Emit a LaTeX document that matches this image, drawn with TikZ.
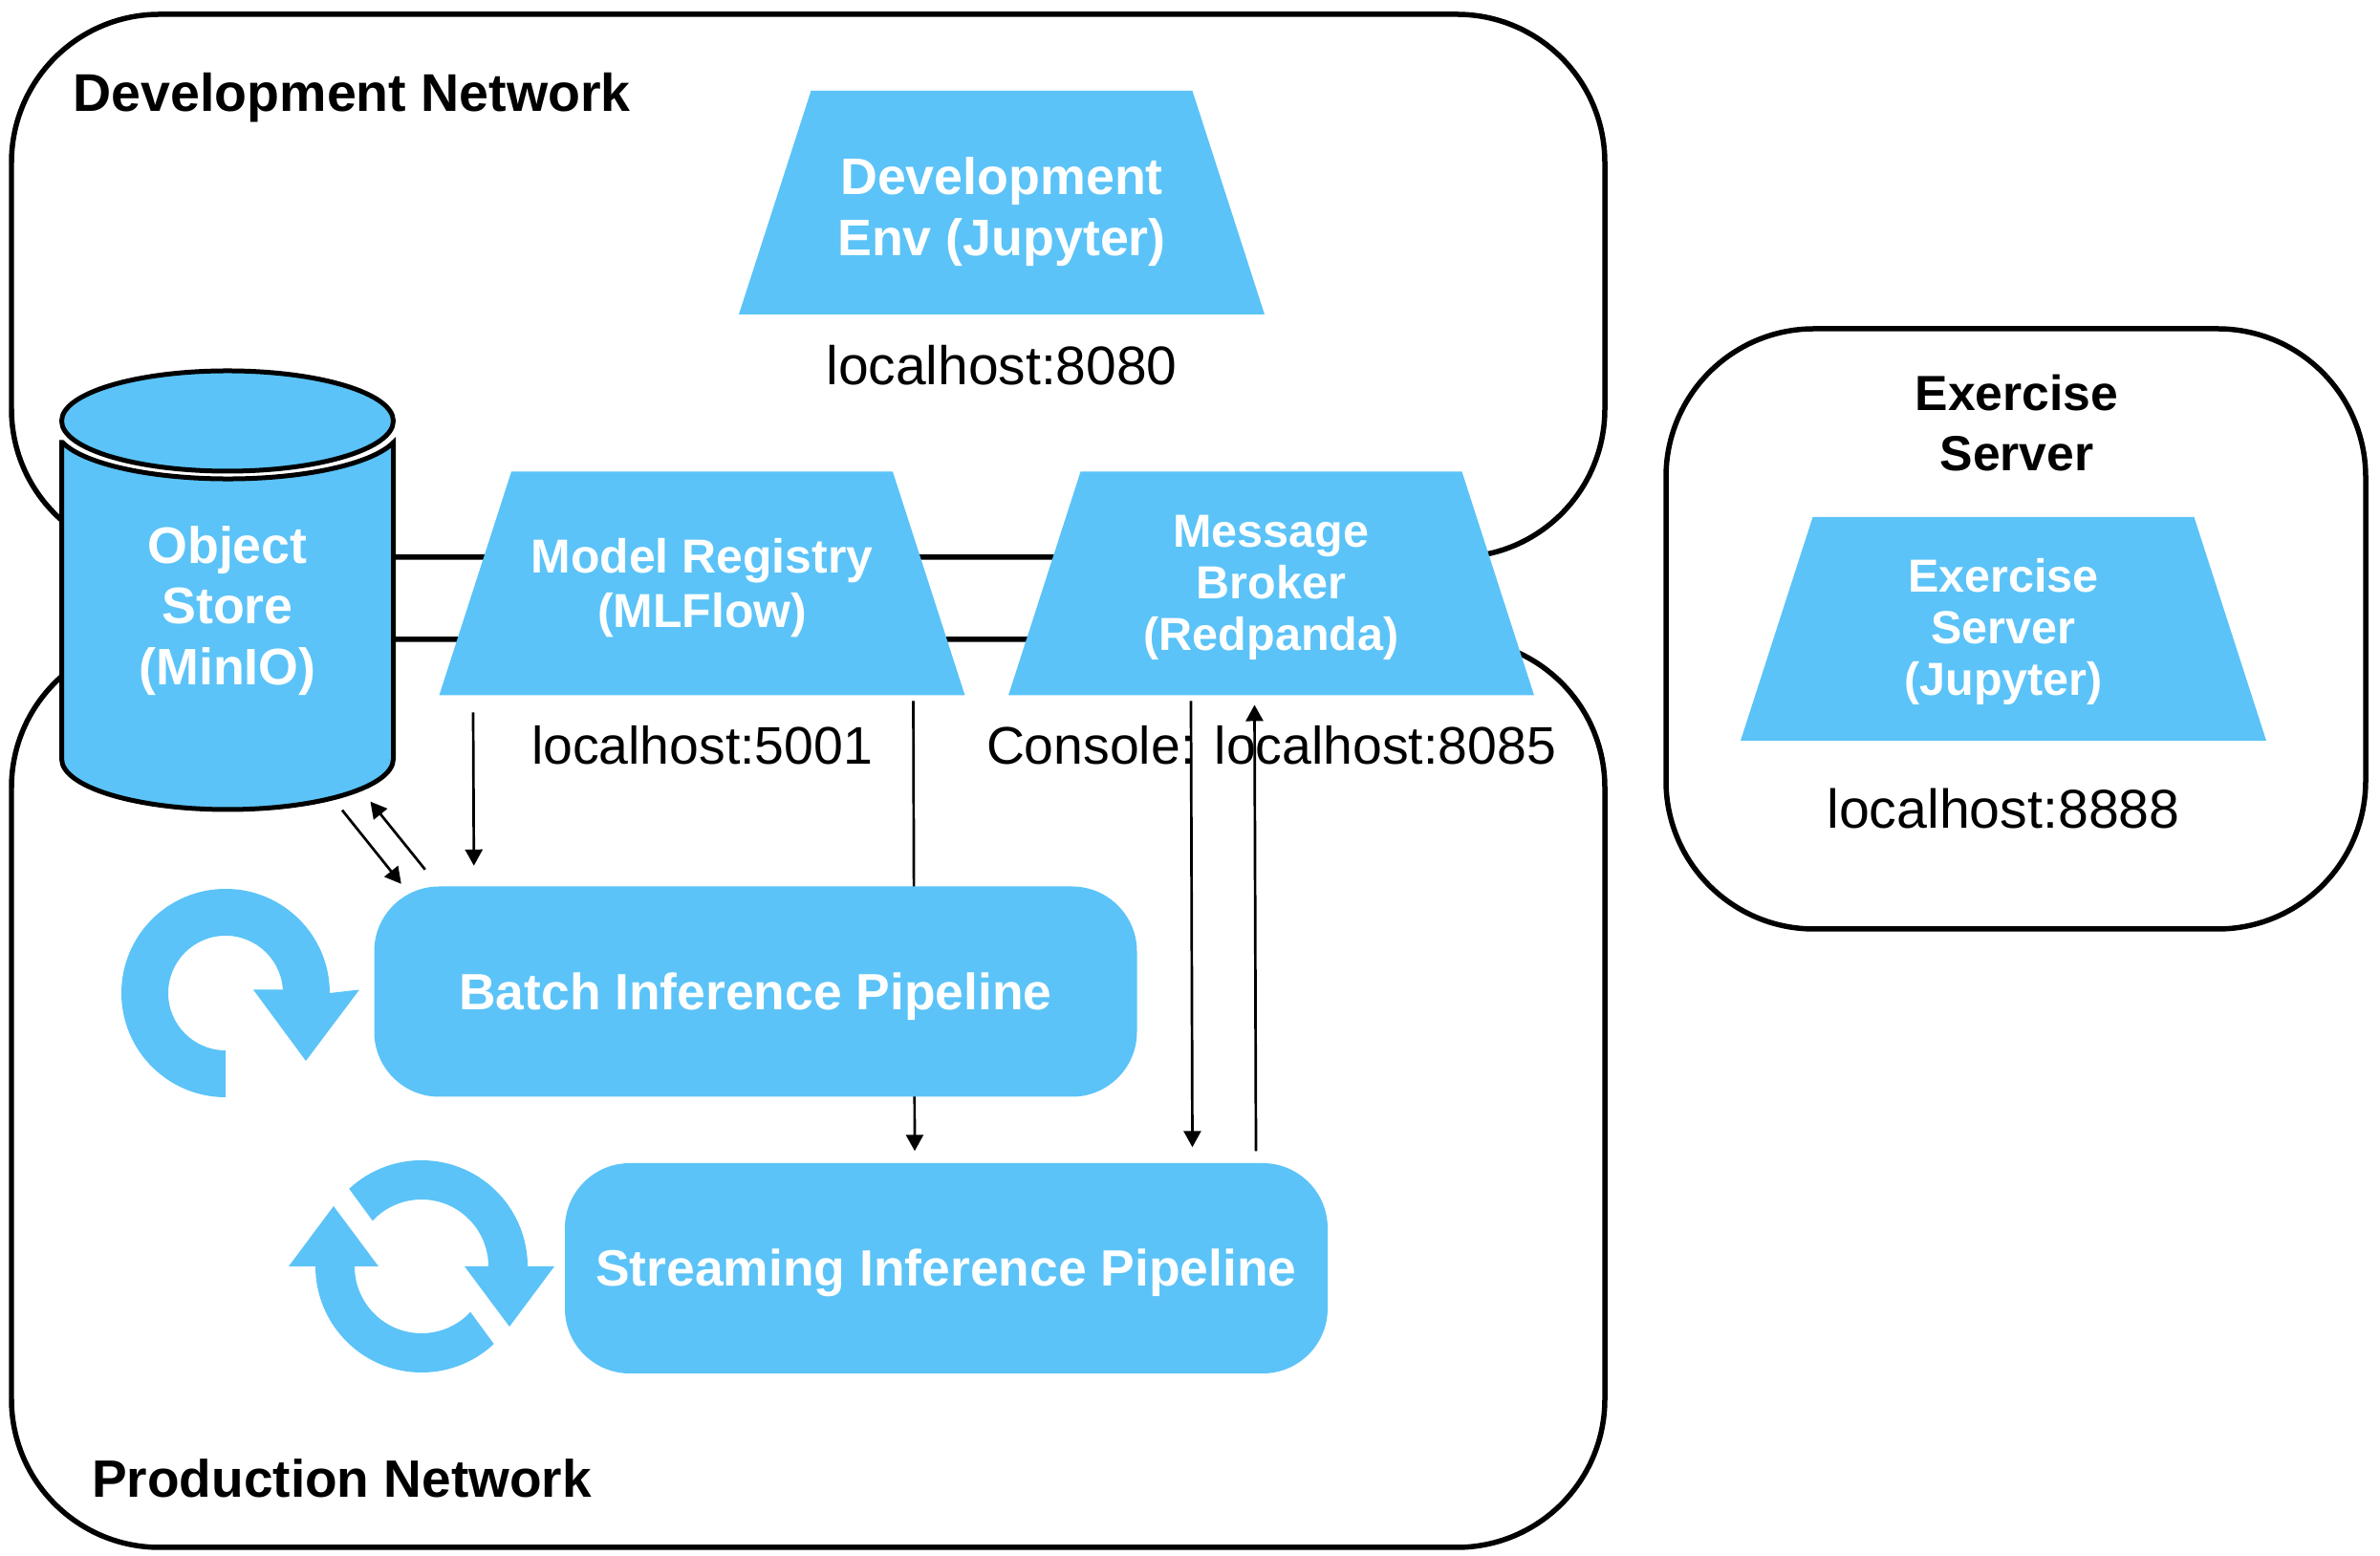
\documentclass[tikz,border=0pt]{standalone}
\usepackage{fontspec}
\setmainfont{Liberation Sans}
\usetikzlibrary{positioning, arrows.meta}

\definecolor{pipeblue}{RGB}{91,195,247}

\tikzset{
    network/.style={draw, line width=0.055cm, rounded corners=1.55cm},
    nettitle/.style={font=\fontsize{15.8}{18}\selectfont\bfseries, align=center, inner sep=0},
    service/.style={minimum width=5.5cm, minimum height=2.34cm,
        inner sep=0, outer sep=0, text=white, align=center,
        path picture={\fill[pipeblue] (path picture bounding box.south west)
            -- ([xshift=0.755cm]path picture bounding box.north west)
            -- ([xshift=-0.755cm]path picture bounding box.north east)
            -- (path picture bounding box.south east) -- cycle;}},
    bigtext/.style={font=\fontsize{15.3}{18.1}\selectfont\bfseries},
    smalltext/.style={font=\fontsize{13.8}{15.4}\selectfont\bfseries, text height=42.7pt},
    pipeline/.style={fill=pipeblue, text=white, rounded corners=0.68cm,
        minimum width=7.98cm, minimum height=2.2cm, inner sep=0, text height=14pt,
        font=\fontsize{15.2}{18}\selectfont\bfseries},
    port/.style={font=\fontsize{16}{18}\selectfont, inner sep=0},
    flow/.style={line width=0.027cm, -{Triangle[length=0.17cm, width=0.18cm]}},
    barrel/.style={draw, line width=0.05cm, fill=pipeblue, miter limit=10},
}

\begin{document}
\begin{tikzpicture}
\useasboundingbox (0,0) rectangle (24.9,16.28);

% network outlines
\node[network, minimum width=16.67cm, minimum height=5.68cm] (dev) at (8.455,13.29) {};
\node[network, minimum width=16.67cm, minimum height=9.50cm] (prod) at (8.455,4.84) {};
\node[network, minimum width=7.32cm, minimum height=6.28cm] (exbox) at (21.09,9.70) {};

\node[nettitle, anchor=west] (devtitle) at (0.76,15.26) {Development Network};
\node[nettitle, anchor=west, font=\fontsize{15.65}{18}\selectfont\bfseries] (prodtitle) at (0.955,0.81) {Production Network};
\node[nettitle, font=\fontsize{14.7}{18}\selectfont\bfseries] (extitle) at (21.10,11.855) {Exercise\\Server};

% object store
\draw[barrel] (0.645,11.65) -- (0.645,8.34)
    arc[start angle=180, end angle=360, x radius=1.735cm, y radius=0.53cm]
    -- (4.115,11.65)
    arc[start angle=-16, end angle=-164, x radius=1.80cm, y radius=0.525cm] -- cycle;
\draw[barrel] (2.38,11.875) ellipse [x radius=1.735cm, y radius=0.525cm];
\node[text=white, align=center, bigtext, minimum width=3.48cm, minimum height=4.18cm, inner sep=0]
    (store) at (2.38,9.89) {Object\\Store\\(MinIO)};

% services
\node[service, bigtext, text height=34.7pt] (jupyter) at (10.48,14.16) {Development\\Env (Jupyter)};
\node[service, font=\fontsize{14.2}{16.3}\selectfont\bfseries, text height=29.4pt] (registry) at (7.345,10.175) {Model Registry\\(MLFlow)};
\node[service, smalltext] (broker) at (13.30,10.175) {Message\\Broker\\(Redpanda)};
\node[service, smalltext] (exercise) at (20.96,9.70) {Exercise\\Server\\(Jupyter)};

\node[port, font=\fontsize{16.2}{18}\selectfont, below=0.32cm of jupyter] (jupyterport) {localhost:8080};
\node[port, font=\fontsize{15.75}{18}\selectfont, below=0.31cm of registry] (registryport) {localhost:5001};
\node[port, font=\fontsize{15.75}{18}\selectfont, below=0.31cm of broker] (brokerport) {Console: localhost:8085};
\node[port, font=\fontsize{16.3}{18}\selectfont, below=0.49cm of exercise] (exerciseport) {localhost:8888};

% pipelines
\node[pipeline] (streaming) at (9.90,3.01) {Streaming Inference Pipeline};
\draw[flow] ([xshift=2.21cm, yshift=-0.06cm]registry.south) -- ([xshift=-0.33cm, yshift=0.12cm]streaming.north);
\node[pipeline] (batch) at (7.905,5.905) {Batch Inference Pipeline};

\draw[flow] ([xshift=1.2cm, yshift=0.01cm]store.south) -- ([xshift=0.29cm, yshift=0.02cm]batch.north west);
\draw[flow] ([xshift=0.54cm, yshift=0.17cm]batch.north west) -- ([xshift=1.495cm, yshift=0.1cm]store.south);
\draw[flow] ([xshift=-2.395cm, yshift=-0.18cm]registry.south) -- ([xshift=1.05cm, yshift=0.21cm]batch.north west);
\draw[flow] ([xshift=-0.84cm, yshift=-0.06cm]broker.south) -- ([xshift=2.575cm, yshift=0.16cm]streaming.north);
\draw[flow] ([xshift=3.24cm, yshift=0.12cm]streaming.north) -- ([xshift=-0.175cm, yshift=-0.1cm]broker.south);

% schedule icon
\fill[pipeblue] (2.36,4.80) arc[start angle=270, end angle=0, radius=1.09cm]
    -- (3.76,5.925) -- (3.20,5.18) -- (2.65,5.925) -- (2.96,5.925) -- (2.96,5.89)
    arc[start angle=0, end angle=270, radius=0.6cm] -- cycle;

% streaming icon
\foreach \a in {0,180}
    \fill[pipeblue, shift={(4.41,3.03)}, rotate=\a] (133:1.11cm)
        arc[start angle=133, end angle=0, radius=1.11cm]
        -- (1.39,0) -- (0.92,-0.63) -- (0.45,0) -- (0.7,0)
        arc[start angle=0, end angle=137, radius=0.7cm] -- cycle;
\end{tikzpicture}
\end{document}
